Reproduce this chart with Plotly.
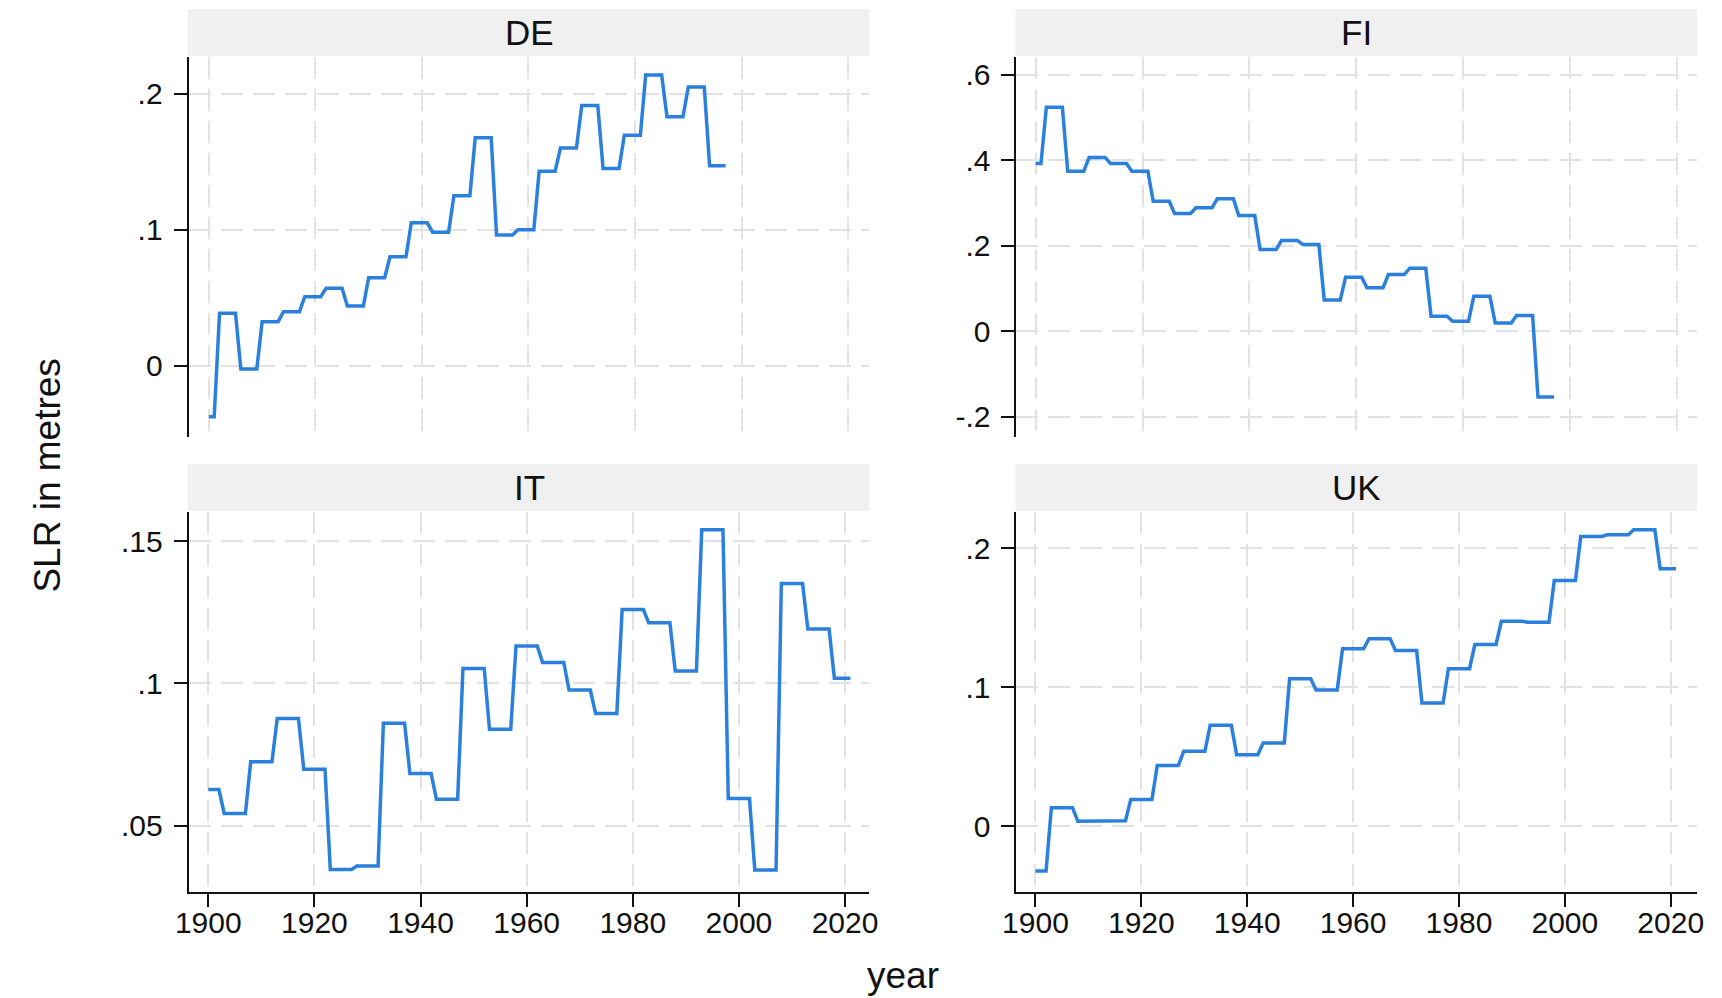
import plotly.graph_objects as go

# ---- data: block start years and block mean values (SLR in metres) ----
de_start = [1900, 1902, 1906, 1910, 1914, 1918, 1922, 1926, 1930, 1934, 1938, 1942, 1946,
            1950, 1954, 1958, 1962, 1966, 1970, 1974, 1978, 1982, 1986, 1990, 1994]
de_end = 1997
de_vals = [-0.0375, 0.0385, -0.0024, 0.0324, 0.0397, 0.0507, 0.0569, 0.0439, 0.0647, 0.0801,
           0.1051, 0.0981, 0.125, 0.1676, 0.0961, 0.100, 0.143, 0.160, 0.1914, 0.145,
           0.1695, 0.2137, 0.183, 0.205, 0.147]

fi_start = [1900, 1902, 1906, 1910, 1914, 1918, 1922, 1926, 1930, 1934, 1938, 1942, 1946,
            1950, 1954, 1958, 1962, 1966, 1970, 1974, 1978, 1982, 1986, 1990, 1994]
fi_end = 1997
fi_vals = [0.3927, 0.5246, 0.3747, 0.4068, 0.3927, 0.3747, 0.3044, 0.2756, 0.289, 0.31,
           0.271, 0.1913, 0.2124, 0.203, 0.0732, 0.1265, 0.1016, 0.1328, 0.1476, 0.0351,
           0.0234, 0.082, 0.0195, 0.0368, -0.1537]

it_start = [1900, 1903, 1908, 1913, 1918, 1923, 1928, 1933, 1938, 1943, 1948, 1953, 1958,
            1963, 1968, 1973, 1978, 1983, 1988, 1993, 1998, 2003, 2008, 2013, 2018]
it_end = 2021
it_vals = [0.0628, 0.0544, 0.0725, 0.0877, 0.0699, 0.0347, 0.0359, 0.086, 0.0684, 0.0594,
           0.1053, 0.0839, 0.1132, 0.1074, 0.0977, 0.0895, 0.126, 0.1213, 0.1044, 0.154,
           0.0596, 0.0345, 0.1351, 0.1191, 0.1018]

uk_start = [1900, 1903, 1908, 1913, 1918, 1923, 1928, 1933, 1938, 1943, 1948, 1953, 1958,
            1963, 1968, 1973, 1978, 1983, 1988, 1993, 1998, 2003, 2008, 2013, 2018]
uk_end = 2021
uk_vals = [-0.0321, 0.0134, 0.0036, 0.0040, 0.0192, 0.0438, 0.0539, 0.0726, 0.0515, 0.0599,
           0.1061, 0.0980, 0.1276, 0.1348, 0.1264, 0.0886, 0.1133, 0.1307, 0.1473, 0.1466,
           0.1767, 0.2083, 0.2095, 0.2131, 0.1851]

panels = ["DE", "FI", "IT", "UK"]
x_ticks = [1900, 1920, 1940, 1960, 1980, 2000, 2020]
y_ticks = {
    "DE": ([0, 0.1, 0.2], ["0", ".1", ".2"]),
    "FI": ([-0.2, 0, 0.2, 0.4, 0.6], ["-.2", "0", ".2", ".4", ".6"]),
    "IT": ([0.05, 0.1, 0.15], [".05", ".1", ".15"]),
    "UK": ([0, 0.1, 0.2], ["0", ".1", ".2"]),
}

W, H = 1722, 998
FONT = "Liberation Sans, Arial, sans-serif"
LINE_COLOR = "#2a80dc"
GRID = "#e2e2e2"
TICKFONT = 30


def steps(starts, end, vals):
    xs, ys = [], []
    for i, (s, v) in enumerate(zip(starts, vals)):
        e = starts[i + 1] - 1 if i + 1 < len(starts) else end
        xs += [s, e]
        ys += [v, v]
    return xs, ys


data = {
    "DE": (de_start, de_end, de_vals),
    "FI": (fi_start, fi_end, fi_vals),
    "IT": (it_start, it_end, it_vals),
    "UK": (uk_start, uk_end, uk_vals),
}

# pixel layout (left, right, top, bottom)
px = {
    "DE": (177, 867, 57, 437),
    "FI": (1016, 1706, 57, 437),
    "IT": (177, 867, 512, 892),
    "UK": (1016, 1706, 512, 892),
}
yranges = {
    "DE": [-0.0524, 0.227],
    "FI": [-0.2475, 0.642],
    "IT": [0.0268, 0.1602],
    "UK": [-0.0472, 0.2259],
}
xranges = {
    "DE": [1896.2, 2024.0],
    "FI": [1896.4, 2023.8],
    "IT": [1896.3, 2024.6],
    "UK": [1896.4, 2025.0],
}

fig = go.Figure()
layout = dict(
    width=W, height=H,
    margin=dict(l=0, r=0, t=0, b=0),
    paper_bgcolor="white", plot_bgcolor="white",
    showlegend=False,
    font=dict(family=FONT, color="#111111"),
)
shapes, annotations = [], []

for i, p in enumerate(panels):
    k = "" if i == 0 else str(i + 1)
    xs, ys = steps(*data[p])
    fig.add_trace(go.Scatter(x=xs, y=ys, mode="lines",
                             line=dict(color=LINE_COLOR, width=3.5),
                             xaxis="x" + k, yaxis="y" + k, hoverinfo="skip"))
    l, r, t, b = px[p]
    xd = [l / W, r / W]
    yd = [1 - b / H, 1 - t / H]
    bottom = p in ("IT", "UK")
    layout["xaxis" + k] = dict(
        domain=xd, anchor="y" + k, range=xranges[p],
        tickvals=x_ticks, ticktext=[str(v) for v in x_ticks],
        showgrid=True, gridcolor=GRID, gridwidth=2, griddash="22px,10px",
        zeroline=False,
        showline=bottom, linecolor="#111111", linewidth=2,
        ticks="outside" if bottom else "", ticklen=13, tickwidth=2, tickcolor="#111111",
        showticklabels=bottom, ticklabelstandoff=-10,
        tickfont=dict(size=TICKFONT, family=FONT, color="#111111"),
    )
    tv, tt = y_ticks[p]
    layout["yaxis" + k] = dict(
        domain=yd, anchor="x" + k, range=yranges[p],
        tickvals=tv, ticktext=tt,
        showgrid=True, gridcolor=GRID, gridwidth=2, griddash="22px,10px",
        zeroline=False,
        showline=True, linecolor="#111111", linewidth=2,
        ticks="outside", ticklen=13, tickwidth=2, tickcolor="#111111",
        ticklabelstandoff=5,
        tickfont=dict(size=TICKFONT, family=FONT, color="#111111"),
    )
    # strip header
    st_top = t - 48
    st_bot = t - 1
    shapes.append(dict(type="rect", xref="paper", yref="paper",
                       x0=(l - 1) / W, x1=r / W, y0=1 - st_bot / H, y1=1 - st_top / H,
                       fillcolor="#f0f0f0", line=dict(width=0), layer="below"))
    annotations.append(dict(text=p, xref="paper", yref="paper",
                            x=(l + r) / 2 / W, y=1 - (st_top + st_bot) / 2 / H,
                            xanchor="center", yanchor="middle", showarrow=False,
                            font=dict(size=35, family=FONT, color="#111111")))

annotations.append(dict(text="SLR in metres", xref="paper", yref="paper",
                        x=33 / W, y=1 - 476 / H, textangle=-90,
                        xanchor="center", yanchor="middle", showarrow=False,
                        font=dict(size=37, family=FONT, color="#111111")))
annotations.append(dict(text="year", xref="paper", yref="paper",
                        x=901 / W, y=1 - 975 / H,
                        xanchor="center", yanchor="middle", showarrow=False,
                        font=dict(size=37, family=FONT, color="#111111")))

layout["shapes"] = shapes
layout["annotations"] = annotations
fig.update_layout(**layout)
fig.write_html("out.html")
